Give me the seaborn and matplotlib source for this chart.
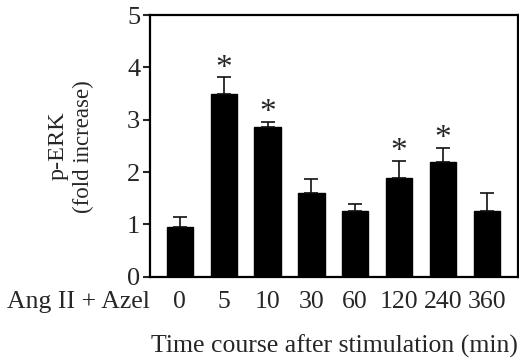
import matplotlib
matplotlib.use('Agg')

import matplotlib.pyplot as plt
import seaborn as sns
import pandas as pd

# data
times = ['0', '5', '10', '30', '60', '120', '240', '360']
perk = [0.96, 3.49, 2.86, 1.60, 1.25, 1.88, 2.19, 1.25]
sem = [0.18, 0.32, 0.10, 0.27, 0.15, 0.34, 0.28, 0.35]
signif = [False, True, True, False, False, True, True, False]


def main():
    sns.set_style('ticks')
    plt.rcParams['font.family'] = ['Liberation Serif', 'DejaVu Serif']

    df = pd.DataFrame({'time': times, 'perk': perk})

    fig = plt.figure(figsize=(5.19, 3.6), dpi=100)
    ax = fig.add_axes([0.289, 0.231, 0.709, 0.727])

    sns.barplot(data=df, x='time', y='perk', color='black', width=0.6,
                edgecolor='black', saturation=1, errorbar=None, ax=ax)
    ax.errorbar(range(len(times)), perk, yerr=[[0] * len(sem), sem],
                fmt='none', ecolor='#111111', elinewidth=1.2, capsize=5,
                capthick=1.2)

    for i, (v, e, s) in enumerate(zip(perk, sem, signif)):
        if s:
            ax.text(i, v + e - 0.12, '*', ha='center', va='bottom', fontsize=24)

    ax.set_xlim(-0.68, 7.71)
    ax.set_ylim(0, 5)
    ax.set_yticks([0, 1, 2, 3, 4, 5])
    ax.tick_params(axis='y', labelsize=19, length=5, width=1.5, pad=2)
    ax.tick_params(axis='x', labelsize=18.5, length=0, pad=10)
    ax.set_xlabel('')
    ax.set_ylabel('')
    for sp in ax.spines.values():
        sp.set_visible(True)
        sp.set_linewidth(1.6)
        sp.set_color('black')

    ax.annotate('Ang II + Azel', xy=(-0.68, 0), xycoords='data',
                xytext=(0, -10), textcoords='offset points',
                ha='right', va='top', fontsize=18.5)

    fig.text(0.645, 0.039, 'Time course after stimulation (min)',
             ha='center', va='center', fontsize=18.5)
    fig.text(0.112, 0.594, 'p-ERK', rotation=90, ha='center',
             va='center', fontsize=17.5)
    fig.text(0.160, 0.594, '(fold increase)', rotation=90, ha='center',
             va='center', fontsize=16.5)

    fig.savefig('out.png', dpi=100)


if __name__ == "__main__":
    main()
